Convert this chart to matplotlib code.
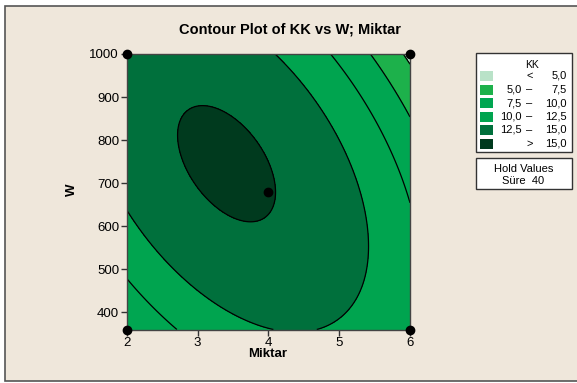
import numpy as np
import matplotlib
matplotlib.use("Agg")
import matplotlib.pyplot as plt
from matplotlib.patches import Rectangle

# quadratic response surface for KK, coded units (Süre held at 40)
# terms: const, Miktar, W, Miktar^2, W^2, Miktar*W
kk_coef = [15.09, -1.5858, 0.1355, -3.7182, -2.4997, -2.9892]
miktar_center, miktar_half = 4, 2
w_center, w_half = 680, 320

# design points shown on the plot
design_miktar = [2, 2, 6, 6, 4]
design_w = [360, 1000, 360, 1000, 680]

levels = [5, 7.5, 10, 12.5, 15]
band_colors = ["#b9e2c8", "#1db14b", "#00a651", "#00a44f", "#00703c", "#003a1e"]
legend_left = ["", "5,0", "7,5", "10,0", "12,5", ""]
legend_mid = ["<", "\u2013", "\u2013", "\u2013", "\u2013", ">"]
legend_right = ["5,0", "7,5", "10,0", "12,5", "15,0", "15,0"]

W_PX, H_PX = 577, 383
fnt = "Liberation Sans"


def fx(x):
    return x / W_PX


def fy(y):
    return 1 - y / H_PX


fig = plt.figure(figsize=(W_PX / 100, H_PX / 100), dpi=100, facecolor="white")

# beige panel behind everything
fig.patches.append(Rectangle((fx(5), fy(381)), 1.2, fy(6) - fy(381), transform=fig.transFigure,
                             facecolor="#efe7db", edgecolor="#555555", linewidth=1.2, zorder=0))

ax = fig.add_axes([fx(126.7), fy(329.5), fx(410) - fx(126.7), fy(54) - fy(329.5)])
ax.set_zorder(3)
m = np.linspace(2, 6, 400)
w = np.linspace(360, 1000, 400)
M, Wg = np.meshgrid(m, w)
U = (M - miktar_center) / miktar_half
V = (Wg - w_center) / w_half
b0, b1, b2, b11, b22, b12 = kk_coef
Z = b0 + b1 * U + b2 * V + b11 * U ** 2 + b22 * V ** 2 + b12 * U * V

ax.contourf(M, Wg, Z, levels=[-1e3] + levels + [1e3], colors=band_colors)
ax.contour(M, Wg, Z, levels=levels, colors="black", linewidths=0.9)
ax.plot(design_miktar, design_w, "o", color="black", ms=6, clip_on=False, zorder=5)

ax.set_xlim(2, 6)
ax.set_ylim(360, 1000)
ax.set_xticks([2, 3, 4, 5, 6])
ax.set_yticks([400, 500, 600, 700, 800, 900, 1000])
ax.tick_params(direction="out", length=4, width=1, color="#333333", labelsize=9.5, pad=1.5)
for lab in ax.get_xticklabels() + ax.get_yticklabels():
    lab.set_fontfamily(fnt)
for sp in ax.spines.values():
    sp.set_color("#444444")
    sp.set_linewidth(1)

fig.text(fx(290), fy(30), "Contour Plot of KK vs W; Miktar", ha="center", va="center",
         fontsize=10.5, fontweight="bold", family=["Liberation Sans Narrow", fnt])
fig.text(fx(268), fy(354), "Miktar", ha="center", va="center", fontsize=9.5,
         fontweight="bold", family=fnt)
fig.text(fx(72), fy(190), "W", ha="center", va="center", rotation=90, fontsize=9.5,
         fontweight="bold", family=fnt)

# legend box
fig.patches.append(Rectangle((fx(476), fy(152)), fx(571.5) - fx(476), fy(53) - fy(152),
                             transform=fig.transFigure, facecolor="white",
                             edgecolor="#333333", linewidth=1, zorder=1))
fig.text(fx(531.5), fy(65), "KK", ha="center", va="center", fontsize=7.5, family=fnt)
for i, c in enumerate(band_colors):
    yc = 76 + i * 13.5
    fig.patches.append(Rectangle((fx(480), fy(yc + 5)), fx(493) - fx(480), fy(yc - 5) - fy(yc + 5),
                                 transform=fig.transFigure, facecolor=c, edgecolor="none",
                                 zorder=2))
    if legend_left[i]:
        fig.text(fx(521.5), fy(yc), legend_left[i], ha="right", va="center", fontsize=8,
                 family=fnt)
    fig.text(fx(529.5), fy(yc), legend_mid[i], ha="center", va="center", fontsize=8,
             family=fnt)
    fig.text(fx(566.5), fy(yc), legend_right[i], ha="right", va="center", fontsize=8,
             family=fnt)

# hold values box
fig.patches.append(Rectangle((fx(476), fy(189)), fx(571.5) - fx(476), fy(157.5) - fy(189),
                             transform=fig.transFigure, facecolor="white",
                             edgecolor="#333333", linewidth=1, zorder=1))
fig.text(fx(523.5), fy(169), "Hold Values", ha="center", va="center", fontsize=8, family=fnt)
fig.text(fx(523.5), fy(180.5), "Süre  40", ha="center", va="center", fontsize=8, family=fnt)

fig.savefig("out.png", dpi=100, facecolor="white")
